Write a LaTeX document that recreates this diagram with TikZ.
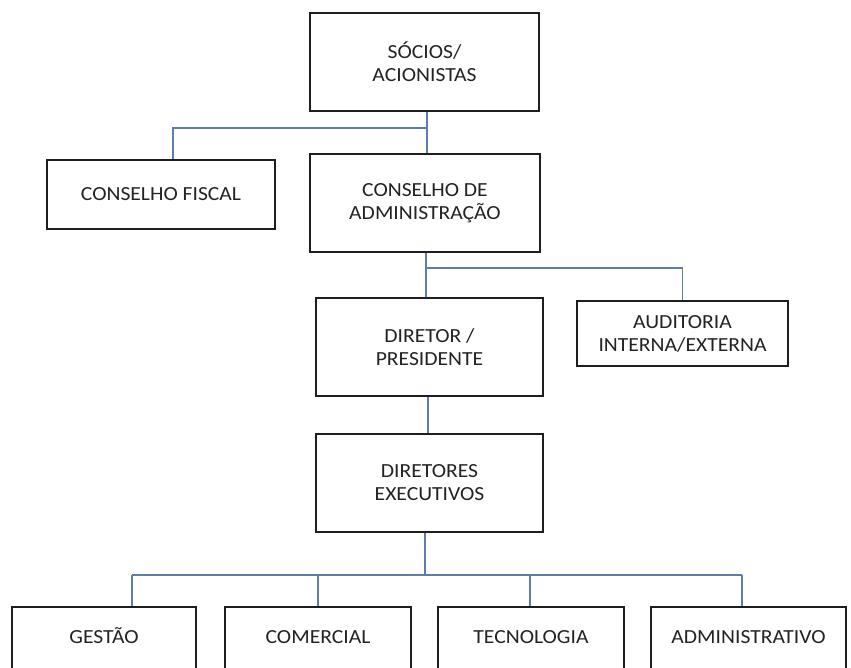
\documentclass[tikz,border=0pt]{standalone}
\usepackage{fontspec}
\setmainfont{Carlito}[FakeStretch=1.08]
\definecolor{conn}{RGB}{92,126,170}
\definecolor{boxline}{RGB}{30,30,30}
\definecolor{txt}{RGB}{35,35,35}
\begin{document}
\begin{tikzpicture}[x=1pt,y=-1pt,
  orgbox/.style={draw=boxline, line width=1.6pt, fill=white, inner sep=0pt, align=center,
    text=txt, font=\fontsize{20}{23}\selectfont},
  cline/.style={draw=conn, line width=1.8pt}]
\useasboundingbox (0,0) rectangle (851,668);
\clip (0,0) rectangle (851,668);
\fill[white] (0,0) rectangle (851,668);

% boxes
\node[orgbox, minimum width=229pt, minimum height=98pt] (soc) at (424.5,62) {SÓCIOS/\\ACIONISTAS};
\node[orgbox, minimum width=228pt, minimum height=69pt] (cf) at (161,194.5) {CONSELHO FISCAL};
\node[orgbox, minimum width=230pt, minimum height=98pt] (cda) at (425,203) {CONSELHO DE\\ADMINISTRAÇÃO};
\node[orgbox, minimum width=227pt, minimum height=98pt] (dp) at (429.5,347) {DIRETOR /\\PRESIDENTE};
\node[orgbox, minimum width=211pt, minimum height=65pt] (aud) at (682.5,333.5) {AUDITORIA\\INTERNA/EXTERNA};
\node[orgbox, minimum width=227pt, minimum height=98pt] (de) at (429.5,483) {DIRETORES\\EXECUTIVOS};

\tikzset{lowbox/.style={orgbox, anchor=north, text height=36.5pt, text depth=40pt}}
\node[lowbox, minimum width=184pt] (ge) at (104,606) {GESTÃO};
\node[lowbox, minimum width=186pt] (co) at (318,606) {COMERCIAL};
\node[lowbox, minimum width=186pt] (te) at (531,606) {TECNOLOGIA};
\node[lowbox, minimum width=195pt] (ad) at (748.5,606) {ADMINISTRATIVO};

% junctions
\coordinate (j1) at (427,128);
\coordinate (j2) at (426,268);
\coordinate (j3) at (425,575);
\coordinate (bl) at (132,575);
\coordinate (br) at (742,575);

% connectors
\draw[cline] (soc.south -| j1) -- (cda.north -| j1);
\draw[cline] (j1) -| ([xshift=12pt]cf.north);
\draw[cline] (cda.south -| j2) -- (dp.north -| j2);
\draw[cline] (j2) -| (aud.north);
\draw[cline] ([xshift=-1.5pt]dp.south) -- ([xshift=-1.5pt]de.north);
\draw[cline] (de.south -| j3) -- (j3);
\draw[cline] (bl) -- (br);
\draw[cline] (bl) -- (ge.north -| bl);
\draw[cline] (co.north |- j3) -- (co.north);
\draw[cline] ([xshift=-1pt]te.north |- j3) -- ([xshift=-1pt]te.north);
\draw[cline] (br) -- (ad.north -| br);
\end{tikzpicture}
\end{document}
